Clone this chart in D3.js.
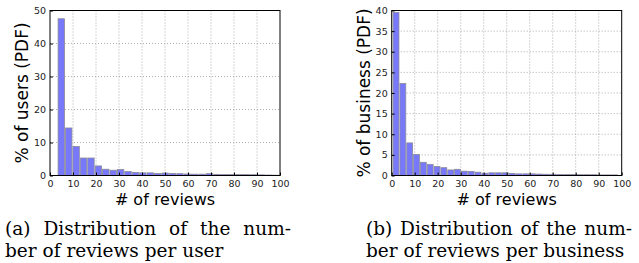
<!DOCTYPE html>
<html>
<head>
<meta charset="utf-8">
<script src="https://cdn.jsdelivr.net/npm/d3@7"></script>
<style>
  body { margin: 0; background: #fff; }
  svg { display: block; }
</style>
</head>
<body>
<div id="chart-container"></div>
<script>
// Data: % of users / businesses per bin of # of reviews.
const userBinStart = 3.3;
const userBinWidth = 3.223;
const userValues = [47.5, 14.4, 8.8, 5.3, 5.3, 2.9, 1.9, 1.6, 1.8, 1.2, 0.9, 0.8, 0.8, 0.6, 0.75,
    0.6, 0.55, 0.45, 0.4, 0.4, 0.55, 0.35, 0.3, 0.3, 0.3, 0.3, 0.25, 0.2, 0.15, 0.1];

const businessBinStart = 0.4;
const businessBinWidth = 2.97;
const businessValues = [39.5, 22.3, 7.9, 5.1, 3.2, 2.7, 2.2, 1.9, 1.35, 1.5, 1.05, 1.0, 0.8, 0.55,
    0.65, 0.65, 0.65, 0.5, 0.4, 0.4, 0.4, 0.35, 0.3, 0.3, 0.25, 0.25, 0.25, 0.2, 0.2, 0.2, 0.15, 0.15, 0.15];

const xTicks = [0, 10, 20, 30, 40, 50, 60, 70, 80, 90, 100];
const userYTicks = [0, 10, 20, 30, 40, 50];
const businessYTicks = [0, 5, 10, 15, 20, 25, 30, 35, 40];

const xLabel = "# of reviews";
const userYLabel = "% of users (PDF)";
const businessYLabel = "% of business (PDF)";
const captionA = ["(a) Distribution of the num-", "ber of reviews per user"];
const captionB = ["(b) Distribution of the num-", "ber of reviews per business"];

const chartWidth = 639;
const chartHeight = 263;
const plotTop = 10.5;
const plotBottom = 175.5;

const chart = d3.select("#chart-container").append("svg")
    .attr("width", chartWidth)
    .attr("height", chartHeight);

function drawPanel(left, right, values, binStart, binWidth, yMax, yTicks, yLabel, yLabelX) {
    const x = d3.scaleLinear().domain([0, 100]).range([left, right]);
    const y = d3.scaleLinear().domain([0, yMax]).range([plotBottom, plotTop]);

    const g = chart.append("g");

    // dotted grid
    g.append("g")
        .selectAll("line")
        .data(xTicks.slice(1, -1))
        .enter().append("line")
        .attr("x1", d => x(d)).attr("x2", d => x(d))
        .attr("y1", plotTop).attr("y2", plotBottom)
        .attr("stroke", "#999").attr("stroke-width", 0.8)
        .attr("stroke-dasharray", "1,2");
    g.append("g")
        .selectAll("line")
        .data(yTicks.slice(1, -1))
        .enter().append("line")
        .attr("x1", left).attr("x2", right)
        .attr("y1", d => y(d)).attr("y2", d => y(d))
        .attr("stroke", "#999").attr("stroke-width", 0.8)
        .attr("stroke-dasharray", "1,2");

    // bars
    g.append("g")
        .selectAll("rect")
        .data(values)
        .enter().append("rect")
        .attr("x", (d, i) => x(binStart + i * binWidth) + 0.5)
        .attr("width", x(binWidth) - x(0) - 1)
        .attr("y", d => y(d))
        .attr("height", d => plotBottom - y(d))
        .attr("fill", "#7878fb")
        .attr("stroke", "#8a8a9a")
        .attr("stroke-width", 0.8);

    // axes
    const xAxis = g.append("g")
        .attr("transform", `translate(0, ${plotBottom})`)
        .call(d3.axisBottom(x).tickValues(xTicks).tickSize(-3).tickPadding(5));
    const yAxis = g.append("g")
        .attr("transform", `translate(${left}, 0)`)
        .call(d3.axisLeft(y).tickValues(yTicks).tickSize(-3).tickPadding(4));
    [xAxis, yAxis].forEach(a => {
        a.select(".domain").remove();
        a.selectAll("text")
            .attr("font-family", "DejaVu Sans")
            .attr("font-size", 9.5)
            .attr("fill", "#222");
        a.selectAll("line").attr("stroke", "#000");
    });

    // frame
    g.append("rect")
        .attr("x", left).attr("y", plotTop)
        .attr("width", right - left).attr("height", plotBottom - plotTop)
        .attr("fill", "none").attr("stroke", "#000").attr("stroke-width", 1);

    g.append("text")
        .attr("x", (left + right) / 2)
        .attr("y", 205)
        .attr("text-anchor", "middle")
        .attr("font-family", "DejaVu Sans")
        .attr("font-size", 16)
        .attr("fill", "#000")
        .text(xLabel);

    g.append("text")
        .attr("transform", `translate(${yLabelX}, ${(plotTop + plotBottom) / 2}) rotate(-90)`)
        .attr("text-anchor", "middle")
        .attr("font-family", "DejaVu Sans")
        .attr("font-size", 17)
        .attr("fill", "#000")
        .text(yLabel);
}

drawPanel(50, 280, userValues, userBinStart, userBinWidth, 50, userYTicks, userYLabel, 28);
drawPanel(391.7, 621.7, businessValues, businessBinStart, businessBinWidth, 40, businessYTicks, businessYLabel, 370);

// justified first line: spread the extra room over the word gaps
function caption(lines, x0, width1) {
    lines.forEach((line, i) => {
        const t = chart.append("text")
            .attr("x", x0)
            .attr("y", 235 + i * 22)
            .attr("font-family", "DejaVu Serif")
            .attr("font-size", 18.5)
            .attr("fill", "#000")
            .text(line);
        if (i === 0) {
            const gaps = line.split(" ").length - 1;
            const extra = (width1 - t.node().getComputedTextLength()) / gaps;
            t.attr("word-spacing", Math.max(0, extra));
        }
    });
}
caption(captionA, 5, 286);
caption(captionB, 366, 266);
</script>
</body>
</html>
